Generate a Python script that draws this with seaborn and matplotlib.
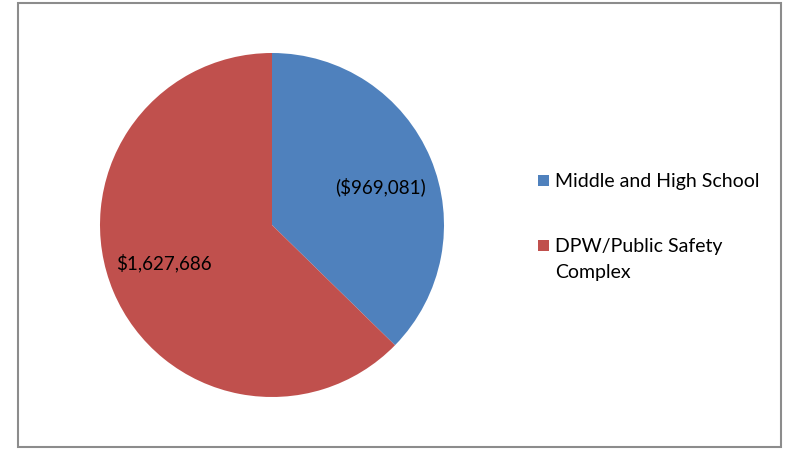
import matplotlib
matplotlib.use("Agg")
import numpy as np
import matplotlib.pyplot as plt
import seaborn as sns
from matplotlib.patches import Rectangle

sns.set_theme(style="white")
plt.rcParams['font.family'] = ['Lato', 'DejaVu Sans']

categories = ["Middle and High School", "DPW/Public Safety\nComplex"]
values = [969081, 1627686]
value_labels = ["($969,081)", "$1,627,686"]
colors = ["#4F81BD", "#C0504D"]

fig = plt.figure(figsize=(7.85, 4.49), dpi=100)
W, H = 785, 449


def fx(x):
    return x / W


def fy(y):
    return 1 - y / H


# outer chart border
fig.patches.append(Rectangle((fx(17.5), fy(447)), (781 - 17.5) / W, (447 - 2.5) / H,
                             transform=fig.transFigure, fill=False,
                             edgecolor="#8c8c8c", linewidth=1.5))

cx, cy, r = 272, 225, 172
ax = fig.add_axes([(cx - r) / W, (H - cy - r) / H, 2 * r / W, 2 * r / H])
wedges, texts = ax.pie(values, labels=value_labels, colors=colors, startangle=90,
                       counterclock=False, labeldistance=0.666,
                       wedgeprops=dict(linewidth=0),
                       textprops=dict(fontsize=13.5, color="black"))
# nudge labels slightly clockwise like Excel's best-fit placement
for w, t in zip(wedges, texts):
    mid = np.deg2rad((w.theta1 + w.theta2) / 2 - 3.5)
    t.set_position((0.666 * np.cos(mid), 0.666 * np.sin(mid)))
    t.set_horizontalalignment("center")
    t.set_verticalalignment("center")
ax.set_xlim(-1, 1)
ax.set_ylim(-1, 1)
ax.set_aspect("equal")
ax.axis("off")

# legend (marker aligned with the first line of each entry, as in Excel)
sq = 11
line_gap = 26
entry_tops = [175, 240]
for c, lab, top in zip(colors, categories, entry_tops):
    fig.patches.append(Rectangle((fx(538), fy(top + sq)), sq / W, sq / H,
                                 transform=fig.transFigure, facecolor=c,
                                 edgecolor="none"))
    for i, line in enumerate(lab.split("\n")):
        fig.text(fx(555), fy(top + 12 + i * line_gap), line, fontsize=14,
                 color="black", ha="left", va="baseline")

fig.savefig("out.png", dpi=100, facecolor="white")
